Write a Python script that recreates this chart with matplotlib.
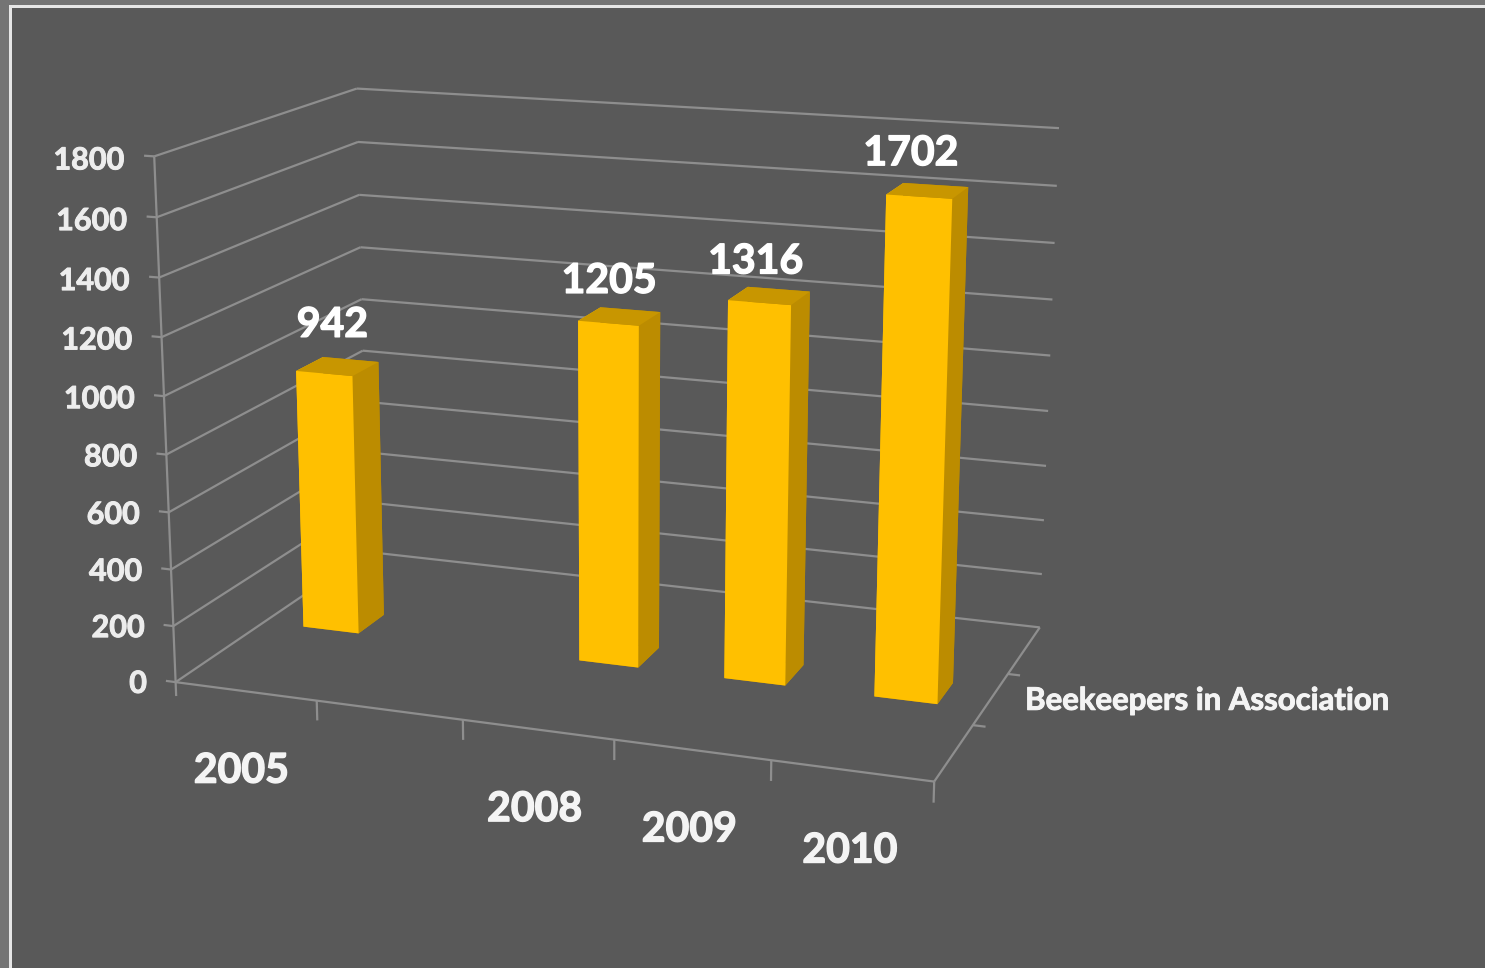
import numpy as np
import matplotlib
matplotlib.use("Agg")
import matplotlib.pyplot as plt
import matplotlib.patheffects as pe
from matplotlib.patches import Rectangle
from mpl_toolkits.mplot3d.art3d import Line3DCollection

# ---- data ----
categories = ["2005", "", "2008", "2009", "2010"]
values = [942, None, 1205, 1316, 1702]
value_ticks = [0, 200, 400, 600, 800, 1000, 1200, 1400, 1600, 1800]
series_name = "Beekeepers in Association"

# ---- style ----
W, H = 1485, 968
BG, STRIP, EDGE = "#595959", "#747474", "#e6e6e6"
GRID = "#8e8e8e"
FRONT, SIDE, TOP = "#FFC000", "#BC8C00", "#C89600"
FONT = "Lato"
BAR_W = 0.41
BAR_DEPTH = 0.14
LABEL_RISE = [147, None, 118, 111, 117]  # gap between each bar top and its label
N = len(categories)
VMAX = value_ticks[-1]

# Camera: fitted so that the chart box lands where the reference shows it
box_model = np.array([[0, 0, 0], [0, 0, 1], [0, 1, 1], [1, 1, 1], [1, 0, 0], [1, 1, 0], [0, 1, 0]], float)
box_pixels = np.array([[176, 683], [154, 156], [357, 89], [1059, 128], [934, 781], [1040, 628], [367, 551]], float)


def fit_camera(model, pixels):
    rows = []
    for (X, Y, Z), (u, v) in zip(model, pixels):
        v = H - v
        p = [X, Y, Z, 1]
        rows.append(p + [0, 0, 0, 0] + [-u * c for c in p])
        rows.append([0, 0, 0, 0] + p + [-v * c for c in p])
    s = np.linalg.svd(np.array(rows))[2][-1].reshape(3, 4)
    if (s[2] @ np.array([.5, .5, .5, 1])) < 0:
        s = -s
    s = s @ np.diag([1 / N, 1.0, 1 / VMAX, 1.0])  # data units to unit box
    s = s / (s[2] @ np.array([N / 2, .5, VMAX / 2, 1]))
    depth = s[2] - np.array([0, 0, 0, 0.5])
    return np.vstack([s[0], s[1], depth, s[2]])


M = fit_camera(box_model, box_pixels)

fig = plt.figure(figsize=(W / 100, H / 100), dpi=100, facecolor=BG)
side = W / H
ax = fig.add_axes([0, (1 - side) / 2, 1, side], projection="3d")
ax.set_xticks([])
ax.set_yticks([])
ax.set_zticks([])
ax.set_axis_off()
ax.patch.set_visible(False)
ax.get_proj = lambda: M
ax.viewLim.intervalx = (0, W)
ax.viewLim.intervaly = ((H - W) / 2, (H + W) / 2)
ax.computed_zorder = False

# frame of the screenshot
fig.patches.extend([
    Rectangle((0, 0), 9 / W, 1, transform=fig.transFigure, fc=STRIP, ec="none"),
    Rectangle((0, 1 - 5 / H), 1, 5 / H, transform=fig.transFigure, fc=STRIP, ec="none"),
    Rectangle((9 / W, 0), 2.5 / W, 1 - 5 / H, transform=fig.transFigure, fc=EDGE, ec="none"),
    Rectangle((9 / W, 1 - 7.5 / H), 1 - 9 / W, 2.5 / H, transform=fig.transFigure, fc=EDGE, ec="none"),
])

segments = []
# grid on side wall and back wall, with a tick on the value axis
for t in value_ticks:
    segments += [[(0, 0, t), (0, 1, t)], [(0, 1, t), (N, 1, t)], [(-0.07, 0, t), (0, 0, t)]]
# axes
segments += [[(0, 0, -50), (0, 0, VMAX)], [(0, 0, 0), (N, 0, 0)], [(N, 0, 0), (N, 1, 0)]]
for i in range(1, N + 1):
    segments.append([(i, 0, -70), (i, 0, 0)])
for d in (1 / 3, 2 / 3):
    segments.append([(N, d, 0), (N + 0.08, d, 0)])
ax.add_collection3d(Line3DCollection(segments, colors=GRID, linewidths=1.6, zorder=1))

# bars
idx = [i for i, v in enumerate(values) if v is not None]
heights = [values[i] for i in idx]
xs = np.array(idx) + 0.5 - BAR_W / 2
face_colors = [TOP, TOP, FRONT, SIDE, FRONT, SIDE] * len(idx)  # bottom, top, -y, +y, -x, +x
ax.bar3d(xs, np.full(len(idx), 0.5 - BAR_DEPTH / 2), np.zeros(len(idx)), BAR_W, BAR_DEPTH, heights,
         color=face_colors, shade=False, edgecolor="none", linewidth=0, zorder=2)


# labels: placed at the projected position of their 3D anchor
def label(x, y, z, s, size, color, ha="center", stroke=0.7):
    p = M @ np.array([x, y, z, 1.0])
    ax.text2D(p[0] / p[3], p[1] / p[3], s, transform=ax.transData, ha=ha, va="center", family=FONT,
              weight="bold", fontsize=size, color=color, zorder=5,
              path_effects=[pe.withStroke(linewidth=stroke, foreground=color)])


for t in value_ticks:
    label(-0.21, 0, t - 20, str(t), 22, "#ededed", ha="right")
for i, c in enumerate(categories):
    if c:
        label(i + 0.45 + 0.012 * i, 0, -290 + 5 * i, c, 29.5, "#f4f4f4", stroke=1.0)
for i, v in zip(idx, heights):
    label(i + 0.47 - 0.02 * i, 0.5, v + LABEL_RISE[i], str(v), 29.5, "#ffffff", stroke=1.0)
label(N + 0.22, 0.5, 8, series_name, 22.4, "#f4f4f4", ha="left")

fig.savefig("out.png", dpi=100, facecolor=BG)
